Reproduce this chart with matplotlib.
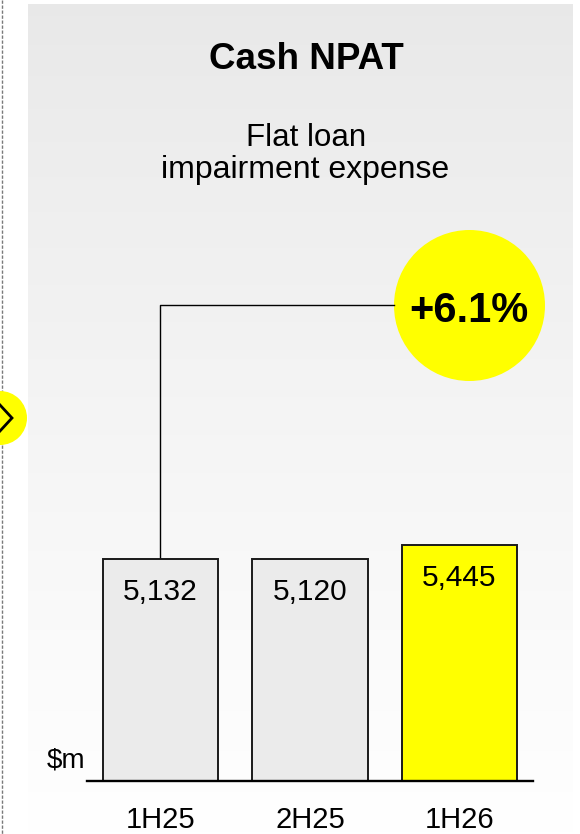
import matplotlib
matplotlib.use("Agg")
import matplotlib.pyplot as plt
import numpy as np
from matplotlib.patches import Circle

plt.rcParams['font.family'] = ['Liberation Sans', 'DejaVu Sans']
plt.rcParams['lines.scale_dashes'] = False

# ---- data ----
categories = ["1H25", "2H25", "1H26"]
values = [5132, 5120, 5445]
bar_colors = ["#ebebeb", "#ebebeb", "#ffff00"]
title = "Cash NPAT"
subtitle_lines = ["Flat loan", "impairment expense"]
unit_label = "$m"

change_pct = (values[-1] / values[0] - 1) * 100
change_label = f"{change_pct:+.1f}%"

W, H = 580, 834
fig = plt.figure(figsize=(W / 100, H / 100), dpi=100)

# ---- background / decoration layer in pixel coordinates ----
bg = fig.add_axes([0, 0, 1, 1])
bg.set_xlim(0, W)
bg.set_ylim(H, 0)
bg.axis("off")

grad = np.linspace(0, 1, 256).reshape(-1, 1)
top_c, bot_c = 0.912, 1.0
shade = top_c + (bot_c - top_c) * grad ** 0.9
img = np.dstack([shade, shade, shade])
bg.imshow(img, extent=[28, 573, H, 4], aspect="auto", interpolation="bilinear", zorder=0)

bg.plot([1.5, 1.5], [0, H], color="#7a7a7a", lw=1.0, dashes=(2.4, 1.2), zorder=1)
bg.add_patch(Circle((0, 418), 27, facecolor="#ffff00", edgecolor="none", zorder=2, clip_on=False))
bg.plot([0, 12, 0], [405, 418, 431], color="black", lw=2.0, zorder=3, solid_joinstyle="miter")

bg.text(306.5, 69, title, ha="center", va="baseline", fontsize=26.5, fontweight="bold", zorder=5)
bg.text(306, 146, subtitle_lines[0], ha="center", va="baseline", fontsize=22.5, zorder=5)
bg.text(305.5, 178, subtitle_lines[1], ha="center", va="baseline", fontsize=23, zorder=5)

bg.add_patch(Circle((469.5, 305.5), 75.5, facecolor="#ffff00", edgecolor="none", zorder=4))
bg.text(469, 321.5, change_label, ha="center", va="baseline", fontsize=30, fontweight="bold", zorder=5)

bg.text(85, 767, unit_label, ha="right", va="baseline", fontsize=20, zorder=5)

# ---- bar chart ----
ax = fig.add_axes([87 / W, (H - 781) / H, (533 - 87) / W, 781 / H])
ax.patch.set_alpha(0)
x = np.arange(len(categories))
ax.bar(x, values, width=0.77, color=bar_colors, edgecolor="#1a1a1a", linewidth=1.4, zorder=3)
ax.set_xlim(-0.4916, 2.4916)
ax.set_ylim(0, 781 / 0.0433)
for s in ["top", "left", "right"]:
    ax.spines[s].set_visible(False)
ax.spines["bottom"].set_linewidth(1.7)
ax.spines["bottom"].set_zorder(4)
ax.set_xticks([])
ax.set_yticks([])

for xi, v in zip(x, values):
    ax.annotate(f"{v:,}", (xi, v), xytext=(0, -29.5), textcoords="offset points",
                ha="center", va="baseline", fontsize=21.5, zorder=5)
for xi, c in zip(x, categories):
    ax.annotate(c, (xi, 0), xytext=(0, -33.5), textcoords="offset points",
                ha="center", va="baseline", fontsize=21, annotation_clip=False)

# bracket from first bar to the change bubble
bracket_y = 11000
ax.plot([x[0], x[0], 1.562], [values[0], bracket_y, bracket_y], color="black", lw=1.0,
        zorder=2, clip_on=False)

fig.savefig("out.png", dpi=100)
